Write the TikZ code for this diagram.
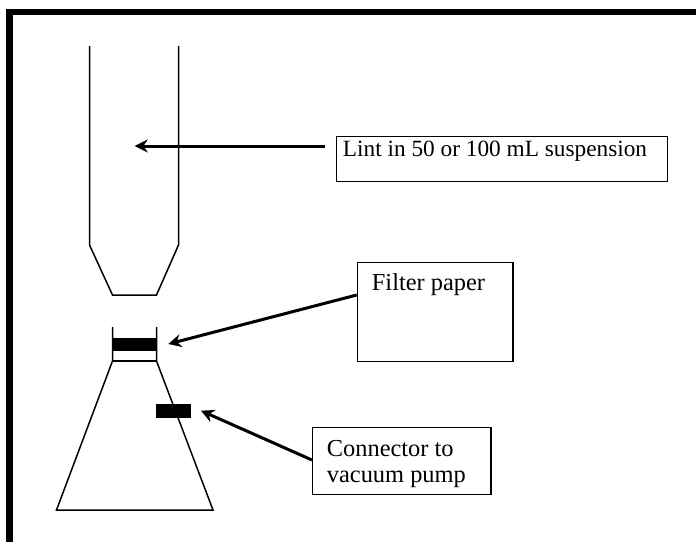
\documentclass[tikz,border=0pt]{standalone}
\usepackage{fontspec}
\setmainfont{Liberation Serif}
\usetikzlibrary{arrows.meta}
\tikzset{
  boxnode/.style={draw,line width=1.4,inner sep=0pt,anchor=north west},
  labeltext/.style={inner sep=0pt,anchor=base west,font=\fontsize{24.4}{25.5}\selectfont},
  glassline/.style={line width=1.5},
  leader/.style={line width=3,-{Stealth[length=13,width=13]}}
}
\begin{document}
\begin{tikzpicture}[x=1pt,y=-1pt]
\useasboundingbox (0,0) rectangle (696,542);
%outer frame
\draw[line width=6.6] (9.3,542)--(9.3,12)--(696,12);
%tube and flask dimensions
\pgfmathsetmacro{\tubeL}{89.5}
\pgfmathsetmacro{\tubeR}{178.5}
\pgfmathsetmacro{\neckL}{112.5}
\pgfmathsetmacro{\neckR}{156.5}
\pgfmathsetmacro{\baseY}{510}
%tube
\draw[glassline] (\tubeL,46)--(\tubeL,245)--(\neckL,295)--(\neckR,295)--(\tubeR,245)--(\tubeR,46);
%flask
\draw[glassline] (\neckL,327)--(\neckL,361)--(56.5,\baseY)--(213,\baseY)--(\neckR,361)--(\neckR,327);
\draw[glassline] (\neckL,361)--(\neckR,361);
%filter paper and connector
\fill (\neckL,338) rectangle (\neckR,351);
\fill (156.3,403.7) rectangle (190.7,417.7);
%label boxes
\node[boxnode,minimum width=331,minimum height=45] (lintbox) at (336,135.7) {};
\node[boxnode,minimum width=155.6,minimum height=99] (filterbox) at (356.7,262) {};
\node[boxnode,minimum width=178.3,minimum height=67] (pumpbox) at (312,427) {};
%text
\node[labeltext,font=\fontsize{23.3}{25.5}\selectfont] (linttext) at (342.7,156.7) {Lint in 50 or 100 mL suspension};
\node[labeltext] (filtertext) at (371.7,290.7) {Filter paper};
\node[labeltext] (pumptexta) at (326.7,456.7) {Connector to};
\node[labeltext] (pumptextb) at (326.7,482) {vacuum pump};
%arrow ends
\coordinate (linttail) at (325,146);
\coordinate (linttip) at (134.7,146);
\coordinate (filtertail) at (356.7,295);
\coordinate (filtertip) at (168.3,344);
\coordinate (pumptail) at (312,460);
\coordinate (pumptip) at (201,410.7);
%arrows
\draw[leader] (linttail)--(linttip);
\draw[leader] (filtertail)--(filtertip);
\draw[leader] (pumptail)--(pumptip);
\end{tikzpicture}
\end{document}
